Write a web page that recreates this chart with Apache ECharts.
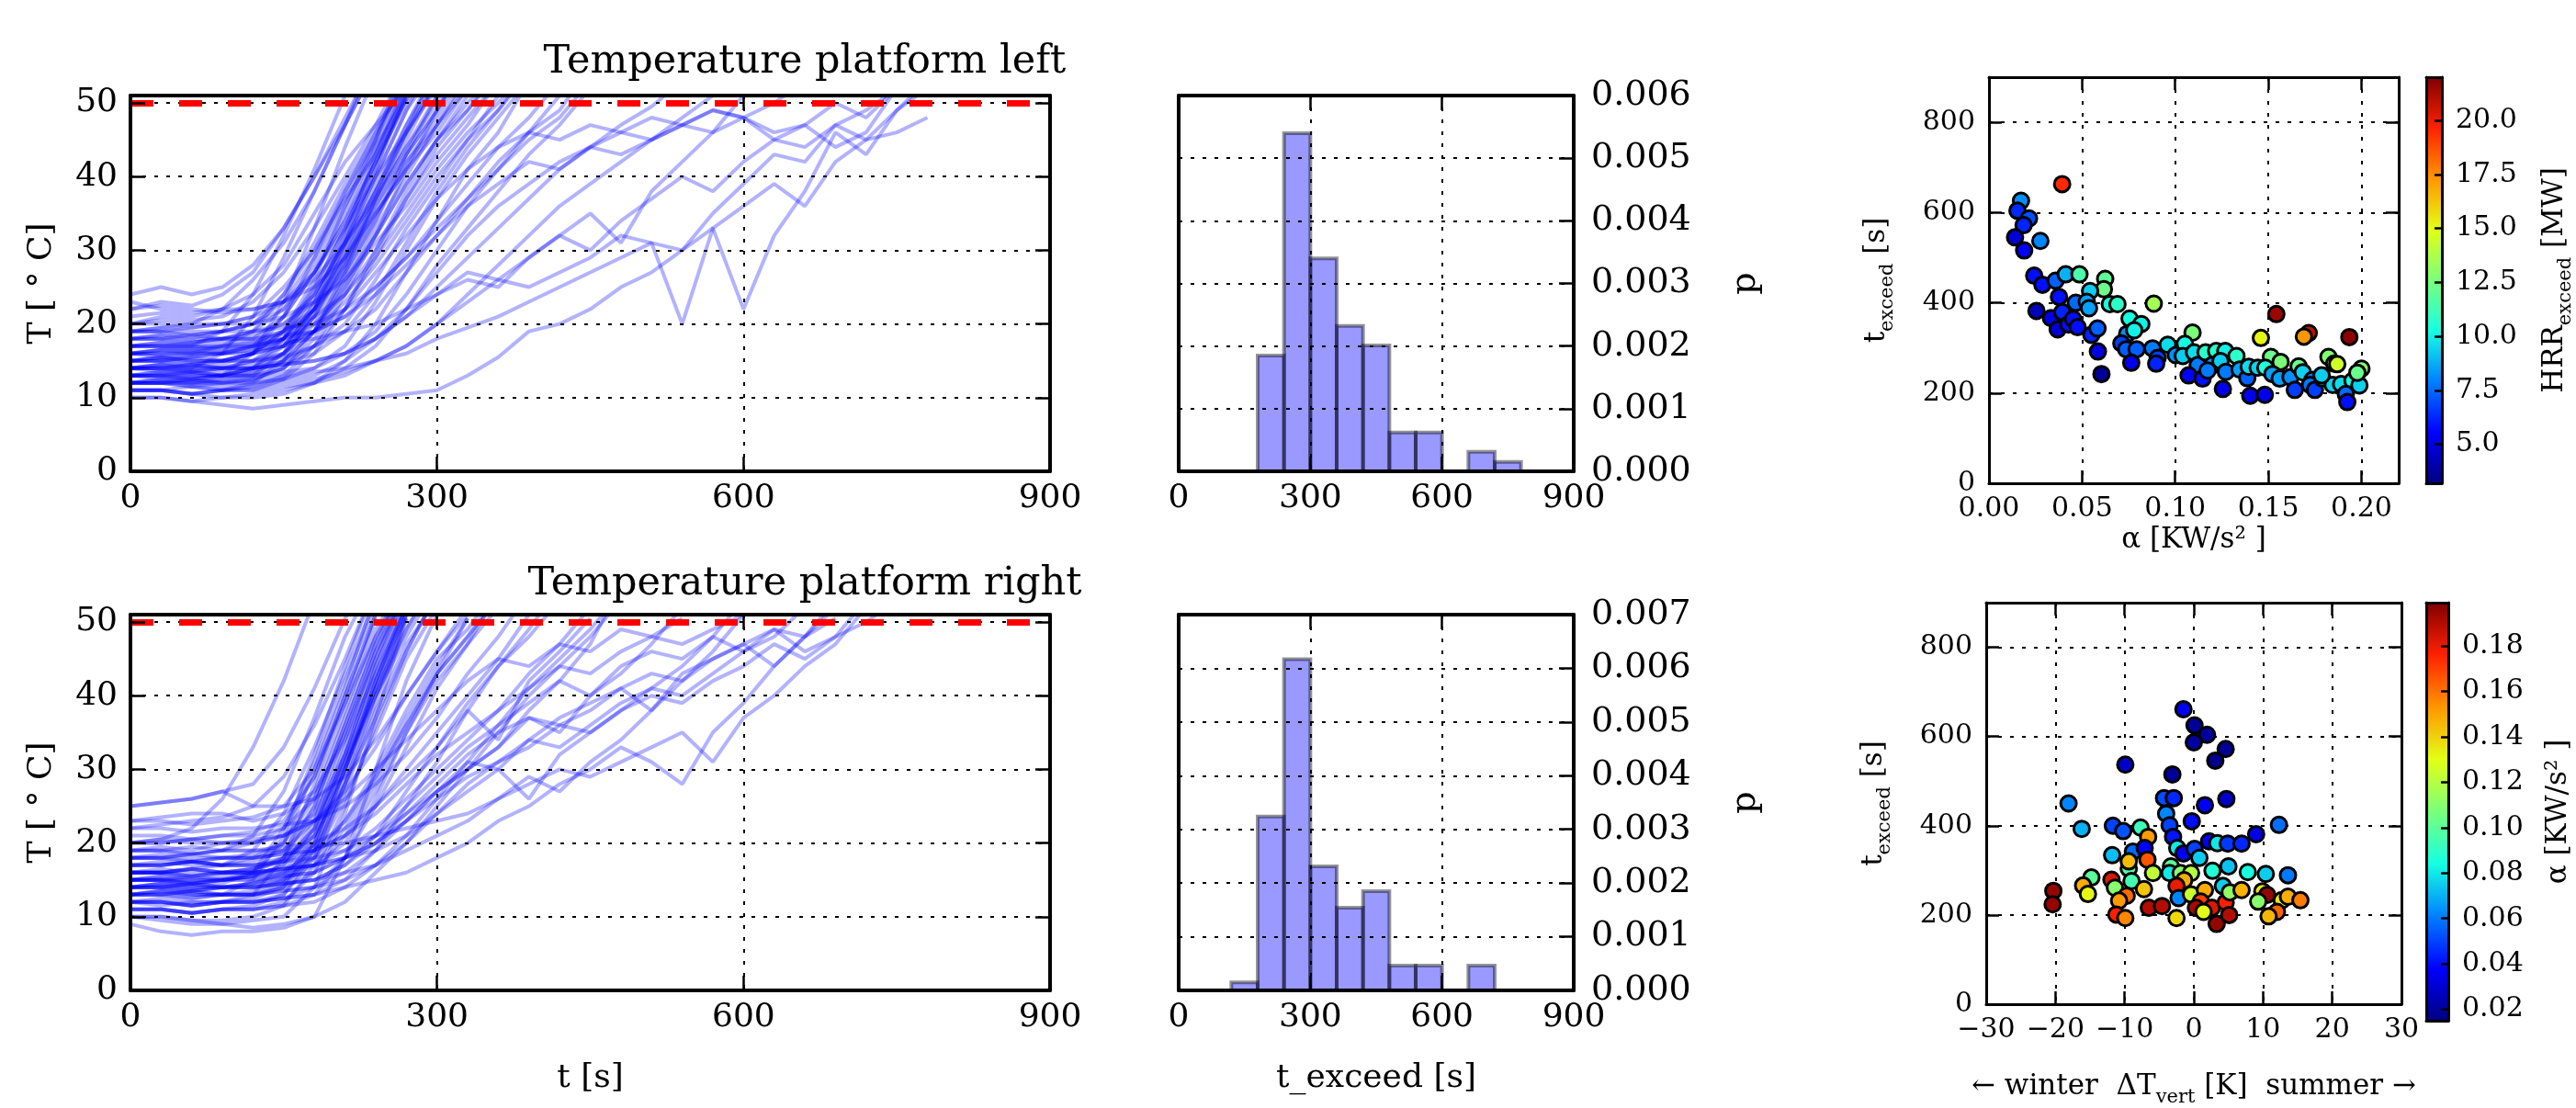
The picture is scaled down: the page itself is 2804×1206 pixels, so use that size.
<!DOCTYPE html>
<html><head><meta charset="utf-8">
<script src="https://cdn.jsdelivr.net/npm/echarts@6/dist/echarts.min.js"></script>
<style>html,body{margin:0;padding:0;background:#fff}#c{width:2804px;height:1206px}</style>
</head><body><div id="c"></div>
<script>
// ---------------- data ----------------
const timeStep = 30; // seconds between samples of every temperature curve
const threshold = 50;
const leftCurves = [
 [16,16.5,17,19,24,32,41,51],
 [22,23,22.5,24,27,33,40,48,56],
 [14,13.5,14,16,21,29,38,47,57],
 [19,19.5,20,22,26,31,38,47,55],
 [12,12,12.5,13,16,23,33,44,54],
 [15,15,15.5,16,17,21,27,35,44,52],
 [18,18.5,18,19,20,24,30,38,46,54],
 [13,13,12.5,13,14,18,25,33,42,51],
 [20,21,20.5,21,23,27,33,40,47,55],
 [11,11,10.5,11,12,15,22,31,41,52],
 [16,16.5,16,17,19,24,31,39,46,53],
 [14,14.5,14,14.5,16,21,29,38,45,54],
 [24,25,24,25,28,33,40,47,55],
 [17,17,17.5,18,19,22,28,36,44,51],
 [12,12.5,12,12.5,13,16,23,32,43,53],
 [15,15.5,15,15,16,19,26,36,45,56],
 [19,19,19.5,20,21,25,30,37,43,50.5,56],
 [13,13.5,13,13,14,17,22,30,38,46,55],
 [21,21.5,21,22,24,28,35,42,47,52],
 [14,14,14.5,14,15,18,24,31,40,49,57],
 [16,16,16.5,16,17,18,22,28,35,42,48,55],
 [12,12,11.5,12,12.5,14,18,25,33,40,47,53],
 [18,18.5,18,18,19,20,23,29,36,43,49,56],
 [14,14.5,14,14,14.5,16,20,27,35,41,46,52],
 [23,22,21.5,22,22,23,26,31,37,44,50,57],
 [11,11,10.5,11,11,12.5,16,22,30,38,45,51],
 [17,17,16.5,17,17.5,19,22,27,34,42,47,54],
 [13,13,13.5,13,13.5,15,19,26,32,39,45,49,55],
 [15,15.5,15,15,16,17,21,28,36,43,49,56],
 [14,14,13.5,14,14,15,17,20,26,33,39,45,49,54],
 [18,18,18.5,18,18,19,21,24,29,35,41,46,50,55],
 [12,12,12,11.5,12,12.5,14,17,23,30,37,43,48,53],
 [16,16.5,16,16,16.5,17,19,23,28,34,40,45,51],
 [10,10,9.5,10,10,10.5,12,15,20,27,34,41,46,53],
 [20,20,19.5,20,20,21,23,26,31,36,42,47,53],
 [15,15,14.5,15,15,15.5,17,19,22,27,32,37,42,46,51],
 [13,13,12.5,13,13,13.5,14,16,19,24,30,36,41,45,48,53],
 [17,17.5,17,17,17.5,18,19,21,25,29,34,39,44,48,53],
 [11,11,10.5,10,10.5,11,12,14,17,22,28,33,38,43,47,52],
 [19,19,18.5,19,19,19.5,20,22,25,29,33,37,41,46,49,55],
 [14,14,13.5,14,14,14.5,15,16,18,21,25,29,33,37,41,44,47,49.5,53],
 [12,12,11.5,11,11.5,12,12.5,13.5,15,17,20,24,28,32,36,39,42,45,48,51,55],
 [17,17,16.5,17,17,17.5,18,19,20,22,24,26,25,29,32,35,31,38,42,46,51],
 [10,10,9.5,9,8.5,9,9.5,10,10,10.5,11,13,15.5,19,20,22,25,27,30,33,22,32,38,46,43,49,53],
 [13,13,12.5,12,12.5,13,13.5,14,15,16,18,19.5,21,23,25,27,29,31,20,33,36,39,36,42,45,49,52],
 [15,15,15.5,15,16,19,25,33,42,50,56],
 [17,17.5,17,17.5,18,21,27,34,43,52],
 [13,12.5,13,13,13.5,16,21,28,37,45,53],
 [19,19,18.5,19,20,23,29,37,45,53],
 [12,12,12,12.5,13,15,19,26,34,43,51],
 [16,15.5,16,16,16.5,18,22,29,37,44,51],
 [14,14,14.5,14,15,17,22,30,39,47,55],
 [18,18,17.5,18,18.5,20,24,31,38,46,53],
 [11,11,11.5,11,11.5,13,17,24,32,41,49,56],
 [20,20.5,20,20,21,23,27,33,40,46,52],
 [15,15,14.5,15,15,16,19,25,32,39,45,50,55],
 [13,13.5,13,13,13,14,17,22,29,37,44,49,54],
 [17,17,17,16.5,17,18,20,24,30,37,43,48,53],
 [22,22.5,22,21.5,22,23,25,29,35,41,47,52],
 [14,14,13.5,13.5,14,14.5,16,19,24,31,38,44,49,55],
 [16,16,15.5,16,16,17,19,22,27,32,37,41,44,46,45,47,46,48,47,49,48,46,47,50,48,52],
 [12,12,12.5,12,12,12.5,13,15,18,22,27,32,36,39,42,44,43,45,47,46,48,45,47,44,46,52],
 [18,18,17.5,18,18,18.5,19,21,24,28,32,36,39,42,41,44,46,45,47,49,48,50,53],
 [14,14.5,14,14,14,14.5,15,16,18,21,24,27,26,29,32,30,34,37,40,38,42,45,44,47,49,52],
 [11,11,10.5,11,11,11.5,12,13,15,17,20,23,26,25,27,29,32,31,30,35,39,43,42,47,45,46,48],
 [15,15.5,15,15,16,18,23,31,40,49,55],
 [13,13,13.5,13,14,16,21,29,38,47,54],
 [19,19.5,19,19,20,22,27,34,42,50.5],
 [16,16,16,16.5,17,19,24,32,41,51],
 [12,12.5,12,12,12.5,14,19,27,37,46,53]
];
const rightCurves = [
 [20,20.5,22,26,33,42,53],
 [16,16,16.5,17,19,24,33,43,53],
 [14,14.5,14,14.5,16,22,31,42,52],
 [22,22.5,23,23.5,25,29,36,45,55],
 [12,11.5,12,12,13,18,28,40,51],
 [18,18,18.5,19,21,27,37,48,56],
 [25,25.5,26,27,28,33,41,50.5,57],
 [15,15,14.5,15,16,20,30,41,54],
 [13,13.5,13,13,15,21,32,44,55],
 [15,15,15.5,15,15.5,17,22,32,44,54],
 [17,17.5,17,17,17.5,19,25,36,47,56],
 [12,12,11.5,12,12,13,18,29,42,53],
 [20,20,20.5,21,21,22,26,35,45,55],
 [14,14.5,14,14,14.5,15.5,20,30,41,52],
 [10,9.5,9,9,9.5,10,14,24,37,50.5],
 [16,16,16.5,16,16.5,17.5,21,30,40,49,56],
 [13,13,12.5,13,13,14,19,28,39,51],
 [23,23.5,24,24,23,24,27,34,43,52],
 [18,18,17.5,18,18,19,23,31,40,48,55],
 [11,11,10.5,11,11,12,16,25,36,46,54],
 [15,15.5,15,15,15.5,16,19,27,38,47,53],
 [19,19.5,19,20,20,21,24,32,42,51],
 [14,14,13.5,14,14,15,18,26,35,45,52],
 [9,8,7.5,8,8,8.5,10,18,30,42,51],
 [17,17,17.5,17,17,18,21,28,37,46,54],
 [16,16,15.5,16,16,16.5,18,23,30,38,45,49,55],
 [13,13,13.5,13,13,14,16,21,28,36,43,48,53],
 [20,20,20.5,20,20,21,23,27,33,40,46,51],
 [11,11,10.5,11,11,11.5,13,18,26,35,42,47,54],
 [25,25.5,26,27,25,25,26,29,34,40,46,52],
 [15,15.5,15,15,15.5,16,17,20,27,35,43,50.5],
 [14,14,13.5,14,14,14.5,15,17,21,27,33,39,44,48,53],
 [18,18.5,18,18,18,18.5,19,21,25,30,35,40,45,51],
 [12,12,11.5,12,12,12.5,13,15,19,25,31,38,44,49,55],
 [22,22,21.5,22,22,22.5,23,25,28,32,37,43,48,54],
 [16,16,16.5,16,16,16.5,17,19,22,26,30,34,38,43,47,52],
 [13,13.5,13,13,13,13.5,14,15,17,21,26,31,36,41,45,49,54],
 [19,19,18.5,19,19,19.5,20,22,25,29,33,38,34,42,46,50.5],
 [10,10,9.5,9,8.5,9,10,12,16,20,25,30,35,40,44,48,53],
 [15,15,14.5,15,15,15.5,16,18,20,23,27,30,33,38,42,47,55],
 [17,17,17.5,17,17,17.5,18,19,21,24,27,30,33,37,35,40,43,47,52],
 [14,14,13.5,14,14,14.5,15,16,17,19,21,23,26,29,27,31,34,38,42,46,51],
 [12,12,11.5,12,12,12.5,13,14,15,16,18,20,23,25,28,30,33,31,28,35,39,44,48,53],
 [19,19,18.5,19,19,19,19.5,20,21,22,23,24,26,28,30,29,31,33,35,31,37,40,44,47,52],
 [16,16,15.5,16,16,16.5,17,18,19,21,24,27,30,26,32,35,38,41,44,48,53],
 [15,15,14.5,15,15.5,17,23,34,46,55],
 [17,17,17.5,17,18,20,27,38,49,56],
 [13,13.5,13,13,13.5,15,21,32,44,53],
 [19,19,19.5,19,20,22,29,40,51],
 [11,11,10.5,11,11.5,13,19,30,42,52],
 [16,16.5,16,16,16.5,18,25,36,47,55],
 [14,14,14.5,14,14.5,16,22,33,45,54],
 [21,21,20.5,21,21.5,23,29,39,50.5],
 [12,12.5,12,12,12.5,14,20,31,43,52],
 [18,18,18.5,18,18.5,20,26,37,48,56],
 [10,10,9.5,9.5,10,11.5,17,28,40,50.5],
 [15,15,15,15.5,16,18,24,35,46,54],
 [23,23,22.5,23,23.5,25,30,39,48,55],
 [13,13,12.5,13,13,14.5,20,30,41,51],
 [16,16,16.5,16,16.5,17.5,22,31,41,49,56],
 [14,14.5,14,14,14.5,15,17,22,29,37,44,50.5],
 [17,17,17.5,17,17,17.5,19,23,29,36,43,48,54],
 [12,12,11.5,12,12,12.5,14,18,25,33,41,47,52],
 [15,15,14.5,15,15,15.5,16,18,21,25,29,33,36,39,42,40,44,46,45,48,46,49,48,52],
 [13,13,13.5,13,13,13.5,14,16,19,23,27,31,30,34,37,39,41,38,43,45,47,44,48,50.5],
 [18,18,17.5,18,18,18.5,19,21,24,28,32,35,38,41,44,43,46,48,47,49,51],
 [11,11,10.5,11,11,11.5,12,14,17,20,24,28,31,34,33,36,39,41,40,43,46,48,52],
 [20,20.5,20,20,20.5,21,23,26,30,34,38,42,45,44,47,46,49,48,50.5],
 [14,14,14.5,14,14,14.5,15,17,20,24,28,32,35,37,36,38,41,43,42,45,47,49,46,48,53],
 [16,16,15.5,16,16,16.5,17,18,20,23,26,29,31,33,36,35,38,40,39,42,44,47,45,48,50,53]
];
const histEdgesLeft = [180,240,300,360,420,480,540,600,660,720,780];
const histDensLeft = [0.00185,0.0054,0.0034,0.00232,0.00201,0.00062,0.00062,0,0.00031,0.00015];
const histEdgesRight = [120,180,240,300,360,420,480,540,600,660,720];
const histDensRight = [0.00015,0.00324,0.00617,0.00231,0.00154,0.00185,0.00046,0.00046,0,0.00046];

// top-right scatter: alpha [KW/s^2], t_exceed [s], HRR_exceed [MW]
const alphaTop = [0.0393,0.0172,0.0153,0.0215,0.0186,0.0140,0.0276,0.0189,0.0243,0.0287,0.0358,0.0412,0.0486,0.0624,0.0617,0.0543,0.0376,0.0466,0.0525,0.0537,0.0649,0.0690,0.0885,0.0255,0.0333,0.0394,0.0369,0.0427,0.0452,0.0476,0.0550,0.0583,0.0585,0.0604,0.0755,0.0818,0.0742,0.0780,0.0711,0.0737,0.0793,0.0764,0.0878,0.0906,0.0898,0.0960,
 0.1093,0.1543,0.1460,0.1717,0.1691,0.1935,0.1003,0.1052,0.1041,0.1101,0.1121,0.1072,0.1147,0.1163,0.1220,0.1269,0.1199,0.1174,0.1243,0.1272,0.1256,0.1329,0.1346,0.1387,0.1395,0.1403,0.1481,0.1443,0.1514,0.1566,0.1484,0.1522,0.1561,0.1619,0.1642,0.1663,0.1685,0.1737,0.1724,0.1750,0.1790,0.1823,0.1854,0.1846,0.1891,0.1952,0.1989,0.2000,0.1978,0.1916,0.1924,0.1870,0.1786];
const tTop = [663,626,604,587,572,545,537,516,460,440,449,463,463,453,430,426,413,400,402,388,397,397,398,382,366,379,341,352,364,346,329,343,292,242,365,353,331,339,310,297,297,267,299,278,265,307,
 334,375,322,333,325,324,284,309,282,290,262,239,232,290,293,293,262,250,271,247,209,282,252,233,258,194,196,256,280,269,256,242,232,235,207,259,246,229,218,207,232,280,265,218,220,227,217,254,245,198,180,264,239];
const hrrTop = [19.5,8.2,6.3,7.0,6.2,4.8,8.0,5.5,5.8,5.8,7.3,8.8,11.5,12.0,12.3,9.3,5.8,7.5,8.5,8.5,10.4,10.8,13.5,4.3,5.0,6.2,4.8,5.8,5.8,5.8,6.2,7.3,5.0,3.6,10.3,10.0,8.2,10.0,6.7,7.3,7.3,5.2,7.8,6.7,6.2,9.6,
 12.6,21.5,15.2,20.8,17.3,21.8,8.2,10.2,9.3,9.6,7.8,5.5,5.8,10.8,10.8,10.0,8.5,7.8,9.3,7.8,5.2,10.8,8.5,7.3,9.6,5.2,5.2,9.4,12.2,12.6,10.5,8.5,8.5,8.2,6.7,12.2,9.4,7.8,7.8,6.7,8.5,12.8,13.0,9.4,9.6,10.2,9.4,13.0,12.2,7.5,5.8,14.5,9.3];

// bottom-right scatter: dT_vert [K], t_exceed [s], alpha [KW/s^2]
const dTBottom = [-1.5,0.1,1.9,0.0,4.6,3.1,-9.9,-3.1,-4.3,-2.9,1.6,4.7,-18.1,-4.0,-3.5,-0.3,-16.2,-11.7,-10.2,-7.7,-6.6,-3.0,-2.4,-1.5,0.1,0.8,2.2,3.4,4.9,-11.8,-8.8,-7.1,-6.7,-9.4,-5.9,-3.3,-3.5,-1.9,-0.4,-1.4,-14.8,-16.0,-15.3,-11.9,-11.4,-9.0,-7.2,-9.7,-10.8,-20.3,-20.4,-11.2,-9.9,-6.5,-4.6,-2.5,-2.5,-2.2,-0.4,1.6,1.0,0.3,2.6,3.3,2.7,5.0,4.6,5.1,4.2,5.2,
 12.3,9.0,6.9,7.8,10.4,13.6,6.9,9.9,10.6,9.3,12.7,13.6,15.4,12.0,10.8,1.4,-9.4];
const tBottom = [661,625,604,587,572,546,537,515,462,462,446,460,450,427,401,410,393,400,388,396,375,375,350,338,348,328,365,361,360,334,342,350,324,304,294,309,294,294,294,278,284,266,247,279,261,276,258,243,232,254,224,201,193,216,220,193,265,238,246,256,230,216,216,180,299,309,228,200,265,251,
 402,381,360,296,292,289,256,253,245,230,233,241,233,207,197,207,320];
const alphaBottom = [0.035,0.019,0.020,0.021,0.019,0.017,0.028,0.019,0.052,0.045,0.036,0.029,0.062,0.062,0.050,0.040,0.070,0.050,0.053,0.093,0.152,0.042,0.080,0.036,0.050,0.075,0.036,0.080,0.048,0.072,0.057,0.037,0.166,0.097,0.122,0.100,0.080,0.110,0.120,0.148,0.100,0.148,0.132,0.183,0.110,0.095,0.143,0.162,0.152,0.195,0.195,0.177,0.156,0.190,0.190,0.138,0.180,0.062,0.124,0.148,0.170,0.192,0.182,0.195,0.087,0.073,0.177,0.190,0.075,0.112,
 0.058,0.033,0.045,0.085,0.075,0.060,0.147,0.135,0.195,0.110,0.135,0.148,0.158,0.163,0.146,0.130,0.145];

const hrrRange = [3.2, 22];
const alphaRange = [0.015, 0.199];
const hrrTicks = [5, 7.5, 10, 12.5, 15, 17.5, 20];
const alphaTicks = [0.02, 0.04, 0.06, 0.08, 0.10, 0.12, 0.14, 0.16, 0.18];
const titles = ['Temperature platform left', 'Temperature platform right'];

// ---------------- styling / option ----------------
const FONT = 'DejaVu Serif';
const jet = ['#000080','#0000ff','#0080ff','#15ffe3','#7aff7a','#e3ff15','#ff9600','#ff2100','#800000'];
const dotted = {show:true, lineStyle:{color:'#000', width:2, type:[4,9]}};

const grid = [
 {left:142, top:104, width:1001, height:409},
 {left:1283, top:104, width:430, height:409},
 {left:2165, top:84, width:446, height:442},
 {left:2641, top:84, width:24, height:442},
 {left:142, top:669, width:1001, height:409},
 {left:1283, top:669, width:430, height:409},
 {left:2162, top:656, width:452, height:455},
 {left:2641, top:656, width:24, height:455}
];

function lab(fs, margin, extra){ return Object.assign({show:true, color:'#000', fontFamily:FONT, fontSize:fs, margin:margin}, extra||{}); }
function ax(gridIndex, position, min, max, interval, o){
  const a = {type:'value', gridIndex, position, min, max, z:5,
    axisLine:{show:true, onZero:false, lineStyle:{color:'#000', width:o.spine}},
    axisTick:{show:o.tick!==false, inside:true, length:o.tickLen||16, lineStyle:{color:'#000', width:2.5}},
    axisLabel:o.label||{show:false},
    splitLine:o.grid?dotted:{show:false}};
  if (interval != null) a.interval = interval;
  if (o.customTicks) a.axisTick.customValues = o.customTicks;
  if (o.name) Object.assign(a, o.name);
  return a;
}
function nm(text, gap, fs, rotate, rich){
  const s = {name:text, nameLocation:'middle', nameGap:gap, nameTextStyle:{fontFamily:FONT, fontSize:fs, color:'#000'}};
  if (rotate != null) s.nameRotate = rotate;
  if (rich) s.nameTextStyle.rich = {
    m:{fontFamily:FONT, fontSize:fs, lineHeight:fs+14, color:'#000'},
    s:{fontFamily:FONT, fontSize:Math.round(fs*0.68), lineHeight:Math.round(fs*0.68), verticalAlign:'bottom', color:'#000'}
  };
  return s;
}
const minus = v => String(v).replace('-', '\u2212');

const xAxis = [], yAxis = [];
// grid 0: line left
xAxis.push(ax(0,'bottom',0,900,300,{spine:4,grid:true,label:lab(36,12)}));
xAxis.push(ax(0,'top',0,900,300,{spine:4}));
yAxis.push(ax(0,'left',0,51,10,{spine:4,grid:true,label:lab(36,14,{showMaxLabel:false}),name:nm('T [ \u00b0 C]',78,36,90)}));
yAxis.push(ax(0,'right',0,51,10,{spine:4}));
// grid 1: hist left
xAxis.push(ax(1,'bottom',0,900,300,{spine:4,grid:true,label:lab(36,12)}));
xAxis.push(ax(1,'top',0,900,300,{spine:4}));
yAxis.push(ax(1,'right',0,0.006,0.001,{spine:4,grid:true,label:lab(38,19,{formatter:v=>v.toFixed(3)}),name:nm('p',168,38,90)}));
yAxis.push(ax(1,'left',0,0.006,0.001,{spine:4,tick:false}));
// grid 2: scatter top
xAxis.push(ax(2,'bottom',0,0.22,0.05,{spine:3,tickLen:14,grid:true,label:lab(30,13,{formatter:v=>v.toFixed(2),showMaxLabel:false}),name:nm('\u03b1 [KW/s\u00b2 ]',46,31)}));
xAxis.push(ax(2,'top',0,0.22,0.05,{spine:3,tickLen:14}));
yAxis.push(ax(2,'left',0,900,200,{spine:3,tickLen:14,grid:true,label:lab(30,15,{showMaxLabel:false}),name:nm('{m|t}{s|exceed}{m| [s]}',100,31,90,true)}));
yAxis.push(ax(2,'right',0,900,200,{spine:3,tickLen:14}));
// grid 3: colorbar top
xAxis.push(ax(3,'bottom',0,1,null,{spine:3,tick:false}));
xAxis.push(ax(3,'top',0,1,null,{spine:3,tick:false}));
yAxis.push(ax(3,'right',hrrRange[0],hrrRange[1],null,{spine:3,tickLen:8,customTicks:hrrTicks,label:lab(30,15,{customValues:hrrTicks,formatter:v=>v.toFixed(1)}),name:nm('{m|HRR}{s|exceed}{m| [MW]}',100,31,90,true)}));
yAxis.push(ax(3,'left',hrrRange[0],hrrRange[1],null,{spine:3,tick:false}));
// grid 4: line right
xAxis.push(ax(4,'bottom',0,900,300,{spine:4,grid:true,label:lab(36,12),name:nm('t [s]',78,36)}));
xAxis.push(ax(4,'top',0,900,300,{spine:4}));
yAxis.push(ax(4,'left',0,51,10,{spine:4,grid:true,label:lab(36,14,{showMaxLabel:false}),name:nm('T [ \u00b0 C]',78,36,90)}));
yAxis.push(ax(4,'right',0,51,10,{spine:4}));
// grid 5: hist right
xAxis.push(ax(5,'bottom',0,900,300,{spine:4,grid:true,label:lab(36,12),name:nm('t_exceed [s]',78,36)}));
xAxis.push(ax(5,'top',0,900,300,{spine:4}));
yAxis.push(ax(5,'right',0,0.007,0.001,{spine:4,grid:true,label:lab(38,19,{formatter:v=>v.toFixed(3)}),name:nm('p',168,38,90)}));
yAxis.push(ax(5,'left',0,0.007,0.001,{spine:4,tick:false}));
// grid 6: scatter bottom
xAxis.push(ax(6,'bottom',-30,30,10,{spine:3,tickLen:14,grid:true,label:lab(30,13,{formatter:minus}),name:nm('{m|\u2190 winter  \u0394T}{s|vert}{m| [K]  summer \u2192}',67,31,null,true)}));
xAxis.push(ax(6,'top',-30,30,10,{spine:3,tickLen:14}));
yAxis.push(ax(6,'left',0,900,200,{spine:3,tickLen:14,grid:true,label:lab(30,15,{showMaxLabel:false}),name:nm('{m|t}{s|exceed}{m| [s]}',100,31,90,true)}));
yAxis.push(ax(6,'right',0,900,200,{spine:3,tickLen:14}));
// grid 7: colorbar bottom
xAxis.push(ax(7,'bottom',0,1,null,{spine:3,tick:false}));
xAxis.push(ax(7,'top',0,1,null,{spine:3,tick:false}));
yAxis.push(ax(7,'right',alphaRange[0],alphaRange[1],null,{spine:3,tickLen:8,customTicks:alphaTicks,label:lab(30,15,{customValues:alphaTicks,formatter:v=>v.toFixed(2)}),name:nm('\u03b1 [KW/s\u00b2 ]',104,31,90)}));
yAxis.push(ax(7,'left',alphaRange[0],alphaRange[1],null,{spine:3,tick:false}));

const series = [];
function addLines(curves, g){
  series.push({type:'line', xAxisIndex:2*g, yAxisIndex:2*g, data:[], silent:true, z:1,
    markLine:{symbol:'none', silent:true, label:{show:false}, animation:false,
      lineStyle:{color:'#ff0000', width:7, type:[25,28], opacity:1}, data:[{yAxis:threshold}]}});
  curves.forEach(c => series.push({type:'line', xAxisIndex:2*g, yAxisIndex:2*g, symbol:'none', showSymbol:false,
    silent:true, clip:true, z:2, lineStyle:{color:'#0000ff', width:4, opacity:0.3},
    data:c.map((v,i)=>[i*timeStep, v])}));
}
function addHist(edges, dens, g){
  const data = [];
  dens.forEach((d,i)=>{ if (d>0) data.push([edges[i], edges[i+1], d]); });
  series.push({type:'custom', xAxisIndex:2*g, yAxisIndex:2*g, silent:true, z:2, data,
    encode:{x:[0,1], y:2},
    renderItem:(params, api)=>{
      const p0 = api.coord([api.value(0), api.value(2)]);
      const p1 = api.coord([api.value(1), 0]);
      return {type:'rect', shape:{x:p0[0], y:p0[1], width:p1[0]-p0[0], height:p1[1]-p0[1]},
        style:{fill:'rgba(0,0,255,0.4)', stroke:'rgba(0,0,0,0.42)', lineWidth:4}};
    }});
}
function addColorbar(range, g){
  series.push({type:'custom', xAxisIndex:2*g, yAxisIndex:2*g, silent:true, z:2, data:[[0,1,range[0],range[1]]],
    renderItem:(params, api)=>{
      const p0 = api.coord([api.value(0), api.value(3)]);
      const p1 = api.coord([api.value(1), api.value(2)]);
      return {type:'rect', shape:{x:p0[0], y:p0[1], width:p1[0]-p0[0], height:p1[1]-p0[1]},
        style:{fill:new echarts.graphic.LinearGradient(0,1,0,0, jet.map((c,i)=>({offset:i/(jet.length-1), color:c})))}};
    }});
}
addLines(leftCurves, 0);
addHist(histEdgesLeft, histDensLeft, 1);
const sTop = series.length;
series.push({type:'scatter', xAxisIndex:4, yAxisIndex:4, z:6, silent:true, symbolSize:17,
  itemStyle:{borderColor:'#000', borderWidth:3, opacity:1},
  data:alphaTop.map((a,i)=>[a, tTop[i], hrrTop[i]])});
addColorbar(hrrRange, 3);
addLines(rightCurves, 4);
addHist(histEdgesRight, histDensRight, 5);
const sBot = series.length;
series.push({type:'scatter', xAxisIndex:12, yAxisIndex:12, z:6, silent:true, symbolSize:17,
  itemStyle:{borderColor:'#000', borderWidth:3, opacity:1},
  data:dTBottom.map((d,i)=>[d, tBottom[i], alphaBottom[i]])});
addColorbar(alphaRange, 7);

const titleStyle = {fontFamily:FONT, fontSize:43, fontWeight:'normal', color:'#000', lineHeight:50};
const option = {
  animation:false,
  backgroundColor:'#fff',
  textStyle:{fontFamily:FONT},
  title:[
    {text:titles[0], left:876, top:43, textAlign:'center', padding:0, textStyle:titleStyle},
    {text:titles[1], left:876, top:611, textAlign:'center', padding:0, textStyle:titleStyle}
  ],
  grid, xAxis, yAxis,
  visualMap:[
    {type:'continuous', show:false, seriesIndex:sTop, dimension:2, min:hrrRange[0], max:hrrRange[1], inRange:{color:jet}},
    {type:'continuous', show:false, seriesIndex:sBot, dimension:2, min:alphaRange[0], max:alphaRange[1], inRange:{color:jet}}
  ],
  series
};
const chart = echarts.init(document.getElementById('c'), null, {renderer:'canvas'});
chart.setOption(option);
</script>
</body></html>
